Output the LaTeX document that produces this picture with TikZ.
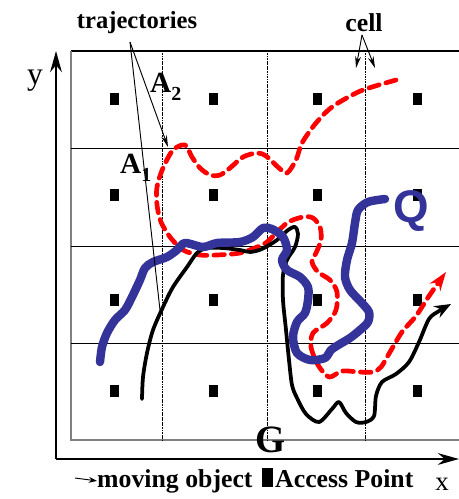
\documentclass[tikz,border=0pt]{standalone}
\usepackage{fontspec}
\setmainfont{Liberation Serif}
\newfontfamily\qfont{Liberation Sans}
\usetikzlibrary{arrows.meta}

\begin{document}
\begin{tikzpicture}[x=0.03cm, y=-0.03cm,
    lbl/.style={font=\fontsize{22}{24}\selectfont\bfseries, inner sep=0pt, anchor=base},
    ap/.style={fill=black, minimum width=0.27cm, minimum height=0.36cm, inner sep=0pt},
    pointer/.style={line width=0.8pt, -{Stealth[length=10pt, width=5pt]}},
    axis/.style={line width=2pt, -{Stealth[length=18pt, width=10pt]}},
    track/.style={line cap=round, line join=round}]
    % Define colours
    \definecolor{qBlue}{HTML}{333399}
    \definecolor{aRed}{HTML}{FF0000}

    \useasboundingbox (0,0) rectangle (459,499);

  % Draw the grid
  \draw[line width=0.9pt] (71,51) -- (459,51);
  \draw[gray, line width=0.9pt] (71,51) -- (71,440) -- (459,440);
  \foreach \y in {148,246,343}
    \draw[line width=0.8pt] (71,\y) -- (459,\y);
  \foreach \x in {162,267,365}
    \draw[line width=0.7pt, dash pattern=on 1pt off 0.4pt] (\x,51) -- (\x,440);

  % Axes
  \draw[axis] (56,459) -- (56,51);
  \draw[axis] (56,459) -- (459,459);
  \node[font=\fontsize{27}{28}\selectfont, anchor=base, inner sep=0pt] (ylab) at (35,84) {y};
  \node[font=\fontsize{23}{24}\selectfont, anchor=base, inner sep=0pt] (xlab) at (442,490) {x};

  % Access points in the cell centres
  \foreach \x in {114,213,317,417}
    \foreach \y in {99,195,300,391}
      \node[ap] (ap-\x-\y) at (\x,\y) {};

  % Trajectory A2 (red, dashed)
  \draw[track, aRed, line width=4pt, dash pattern=on 9pt off 6pt,
        -{Stealth[length=16pt, width=11pt]}]
    plot[smooth] coordinates {(396,80) (372,87) (356,93) (332,107) (316,123) (302,143)
      (296,160) (287,173) (279,168) (266,156) (257,153) (243,157) (230,168) (220,175)
      (210,175) (200,168) (192,157) (185,145) (173,150) (163,168) (157,187) (157,205)
      (161,222) (170,237) (183,250) (200,255) (217,255) (240,253) (257,247) (267,242)
      (287,223) (303,217) (313,218) (320,227) (321,240) (316,253) (312,262) (318,272)
      (330,280) (337,292) (336,310) (327,323) (313,333) (311,347) (318,365) (329,377)
      (342,371) (359,372) (373,372) (381,367) (390,352) (402,332) (416,316) (429,296)
      (446,272)};

  % Trajectory A1 (black)
  \draw[track, black, line width=3.2pt, -{Stealth[length=14pt, width=11pt]}]
    plot[smooth] coordinates {(142,399) (143,377) (147,353) (153,330) (163,307) (173,287)
      (187,267) (197,253) (207,248) (223,248) (240,250) (250,252) (262,249) (277,240)
      (288,230) (295,227) (298,234) (295,247) (287,260) (283,275) (283,300) (286,330)
      (289,360) (292,385) (297,398) (306,414) (319,422) (332,409) (339,402) (346,413)
      (356,422) (366,422) (374,416) (376,396) (382,382) (396,374) (409,362) (419,342)
      (429,319) (439,311) (451,304)};

  % Query trajectory Q (blue)
  \draw[track, qBlue, line width=7.2pt]
    plot[smooth] coordinates {(100,362) (102,347) (107,333) (115,320) (125,310) (132,297)
      (140,280) (145,268) (153,262) (167,257) (177,250) (185,243) (203,247) (217,243)
      (240,242) (253,237) (263,228) (272,229) (283,237) (287,250) (282,260) (287,270)
      (300,277) (308,287) (308,300) (305,313) (297,322) (293,337) (297,353) (310,360)
      (325,358) (331,350) (340,344) (350,338) (360,330) (368,322) (369,312) (361,302)
      (350,290) (345,277) (347,260) (352,243) (355,223) (358,210) (368,202) (385,199)};

  % Labels
  \node[lbl, font=\fontsize{21}{24}\selectfont\bfseries] (traj) at (137,28) {trajectories};
  \node[lbl] (cell) at (364,31) {cell};
  \node[lbl, font=\fontsize{25}{26}\selectfont\bfseries, anchor=base west] (A2) at (150,92)
    {A\raisebox{-0.3em}{\fontsize{17}{17}\selectfont 2}};
  \node[lbl, font=\fontsize{25}{26}\selectfont\bfseries, anchor=base west] (A1) at (120,173)
    {A\raisebox{-0.3em}{\fontsize{17}{17}\selectfont 1}};
  \node[lbl, font=\fontsize{39}{40}\selectfont\qfont\bfseries, text=qBlue] (Q) at (411,222) {Q};
  \node[lbl, font=\fontsize{33}{34}\selectfont\bfseries] (G) at (271,452) {G};

  % Pointers from the labels
  \coordinate (trajfoot) at (130,42);
  \coordinate (a2tip) at (168,147);
  \coordinate (a1end) at (160,310);
  \coordinate (cellfoot) at (362,35);
  \coordinate (cellL) at (356,68);
  \coordinate (cellR) at (375,68);
  \draw[pointer] (trajfoot) -- (a2tip);
  \draw[line width=0.8pt] (trajfoot) -- (a1end);
  \draw[pointer] (cellfoot) -- (cellL);
  \draw[pointer] (cellfoot) -- (cellR);

  % Legend
  \coordinate (legtail) at (75,478);
  \node[lbl, anchor=base west] (moving) at (97,487) {moving object};
  \node[fill=black, minimum width=0.33cm, minimum height=0.55cm, inner sep=0pt] (legap) at (267.5,477.5) {};
  \node[lbl, anchor=base west] (access) at (275,487) {Access Point};
  \draw[line width=0.8pt, -{Stealth[length=7pt, width=5pt]}] (legtail) -- (moving.west);

\end{tikzpicture}
\end{document}
